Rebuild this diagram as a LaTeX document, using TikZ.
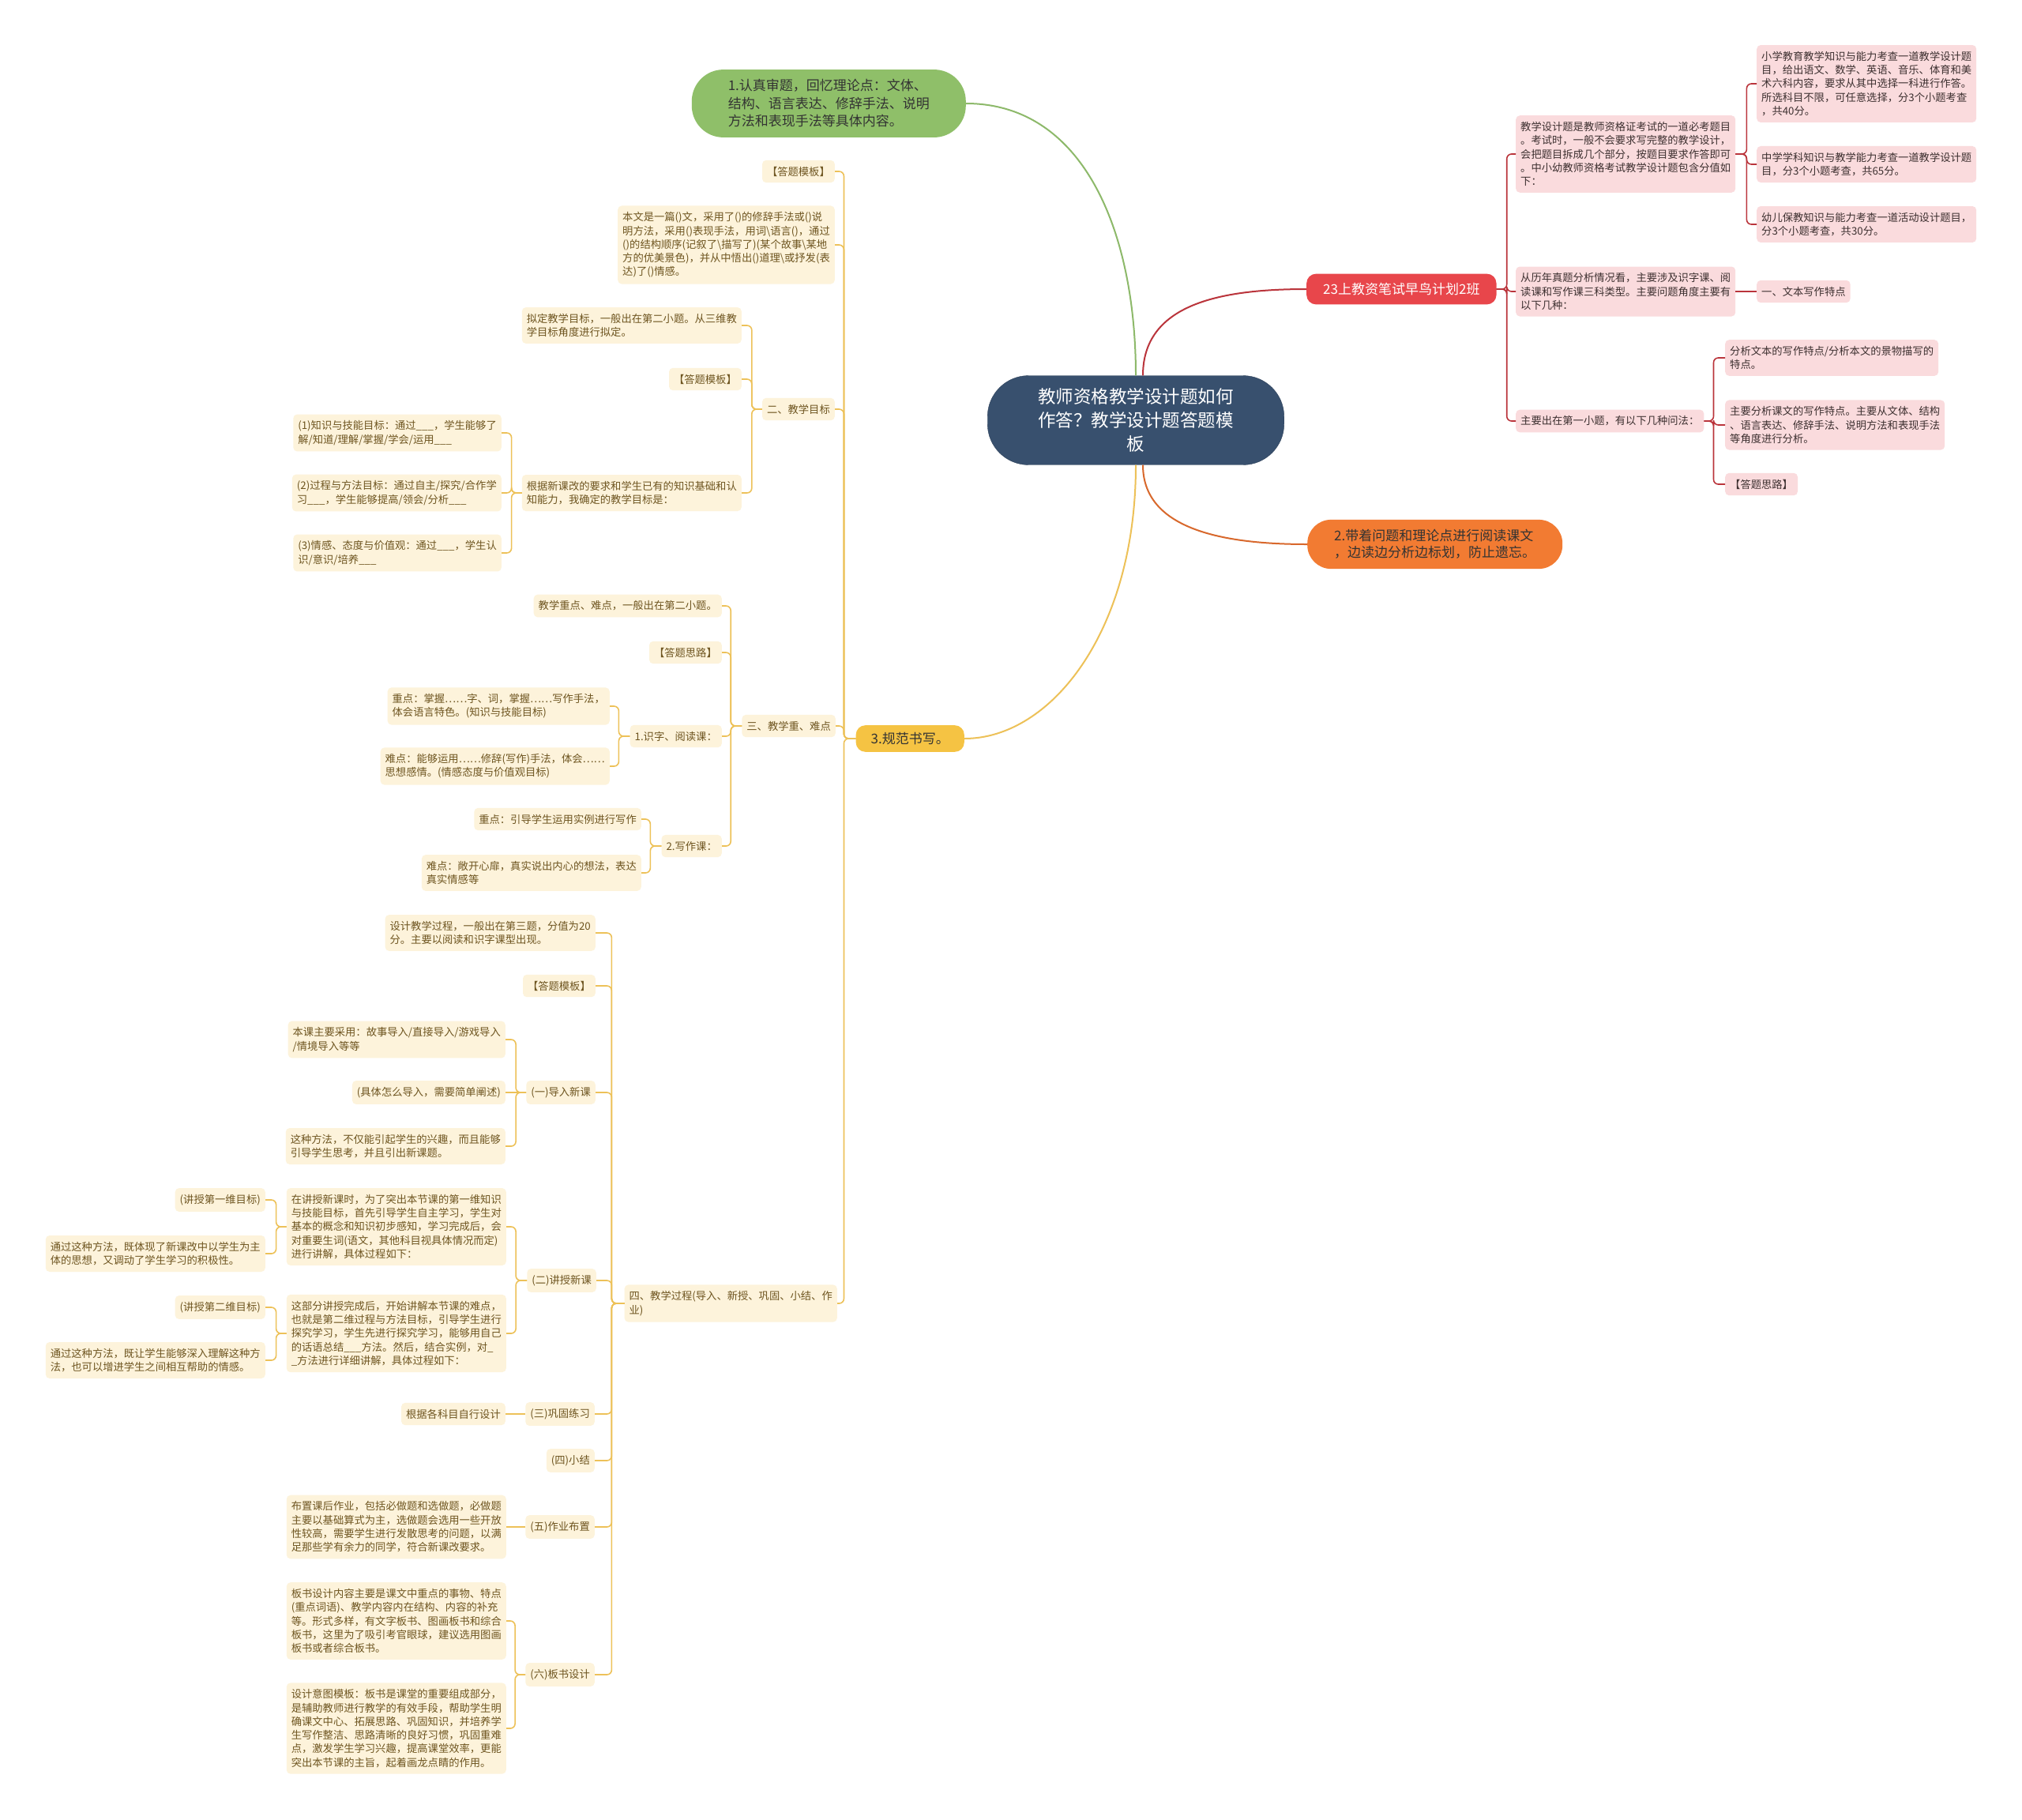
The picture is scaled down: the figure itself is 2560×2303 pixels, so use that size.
\documentclass[tikz,border=0pt]{standalone}
\usepackage{fontspec}
\setmainfont{Noto Sans CJK SC}
\usepackage{xcolor}
\definecolor{rootblue}{HTML}{38506E}
\definecolor{gfill}{HTML}{8FBF69}
\definecolor{gline}{HTML}{8DB96A}
\definecolor{rmain}{HTML}{E8464B}
\definecolor{rline}{HTML}{BA343B}
\definecolor{rfill}{HTML}{FADBDD}
\definecolor{rtext}{HTML}{3D3030}
\definecolor{omain}{HTML}{F27B32}
\definecolor{oline}{HTML}{D8682C}
\definecolor{ymain}{HTML}{F5C343}
\definecolor{yline}{HTML}{EDC158}
\definecolor{yfill}{HTML}{FDF3DB}
\definecolor{ytext}{HTML}{6E5520}
\definecolor{darktext}{HTML}{333333}
\begin{document}
\begin{tikzpicture}[x=1pt, y=-1pt,
  leaf/.style={rectangle, rounded corners=5, inner xsep=6, inner ysep=8, align=left, font=\fontsize{13.3}{17.3}\selectfont},
  yleaf/.style={leaf, fill=yfill, text=ytext, anchor=east},
  rleaf/.style={leaf, fill=rfill, text=rtext, anchor=west},
  ylink/.style={draw=yline, line width=1.6, rounded corners=6},
  rlink/.style={draw=rline, line width=1.6, rounded corners=6},
  mainlink/.style={line width=2}]
\fill[white] (0,0) rectangle (2560,2303);
\useasboundingbox (0,0) rectangle (2560,2303);

\node[rectangle, rounded corners=52, fill=rootblue, draw=rootblue!80!black, text=white, align=center, inner xsep=64, inner ysep=16, font=\fontsize{22.5}{30}\selectfont] (root) at (1438,532) {教师资格教学设计题如何\\作答？教学设计题答题模\\板};
\node[rectangle, rounded corners=40, fill=gfill, text=darktext, align=left, inner xsep=46, inner ysep=12.5, anchor=east, font=\fontsize{17}{22.5}\selectfont] (review) at (1223,131) {1.认真审题，回忆理论点：文体、\\结构、语言表达、修辞手法、说明\\方法和表现手法等具体内容。};
\node[rectangle, rounded corners=12, fill=rmain, text=white, inner xsep=21, inner ysep=11.5, anchor=west, font=\fontsize{17}{22}\selectfont] (plan) at (1654,366) {23上教资笔试早鸟计划2班};
\node[rectangle, rounded corners=30, fill=omain, text=darktext, align=left, inner xsep=34, inner ysep=12.5, anchor=west, font=\fontsize{17}{21}\selectfont] (readmark) at (1655,689) {2.带着问题和理论点进行阅读课文\\，边读边分析边标划，防止遗忘。};
\node[rectangle, rounded corners=12, fill=ymain, text=darktext, inner xsep=19, inner ysep=9, anchor=east, font=\fontsize{17}{22}\selectfont] (neat) at (1221,935) {3.规范书写。};

\path [draw=gline, mainlink] (review.east) .. controls +(150,0) and +(0,-180) .. (root.north);
\path [draw=rline, mainlink] ([xshift=9]root.north) .. controls +(0,-90) and +(-110,0) .. (plan.west);
\path [draw=oline, mainlink] ([xshift=9]root.south) .. controls +(0,80) and +(-110,0) .. (readmark.west);
\path [draw=yline, mainlink] (root.south) .. controls +(0,210) and +(110,0) .. (neat.east);

\node[rleaf] (exam) at (1919,195) {教学设计题是教师资格证考试的一道必考题目\\。考试时，一般不会要求写完整的教学设计，\\会把题目拆成几个部分，按题目要求作答即可\\。中小幼教师资格考试教学设计题包含分值如\\下：};
\node[rleaf] (exam1) at (2224,106) {小学教育教学知识与能力考查一道教学设计题\\目，给出语文、数学、英语、音乐、体育和美\\术六科内容，要求从其中选择一科进行作答。\\所选科目不限，可任意选择，分3个小题考查\\，共40分。};
\node[rleaf] (exam2) at (2224,208) {中学学科知识与教学能力考查一道教学设计题\\目，分3个小题考查，共65分。};
\node[rleaf] (exam3) at (2224,284) {幼儿保教知识与能力考查一道活动设计题目，\\分3个小题考查，共30分。};
\node[rleaf] (types) at (1919,369) {从历年真题分析情况看，主要涉及识字课、阅\\读课和写作课三科类型。主要问题角度主要有\\以下几种：};
\node[rleaf] (types1) at (2224,369) {一、文本写作特点};
\node[rleaf] (ask) at (1919,533) {主要出在第一小题，有以下几种问法：};
\node[rleaf] (ask1) at (2184,453) {分析文本的写作特点/分析本文的景物描写的\\特点。};
\node[rleaf] (ask2) at (2184,538) {主要分析课文的写作特点。主要从文体、结构\\、语言表达、修辞手法、说明方法和表现手法\\等角度进行分析。};
\node[rleaf] (ask3) at (2184,613) {【答题思路】};

\path [draw, rlink] (plan.east) -- ++(13,0) |- (exam.west);
\path [draw, rlink] (plan.east) -- ++(13,0) |- (types.west);
\path [draw, rlink] (plan.east) -- ++(13,0) |- (ask.west);
\path [draw, rlink] (exam.east) -- ++(14,0) |- (exam1.west);
\path [draw, rlink] (exam.east) -- ++(14,0) |- (exam2.west);
\path [draw, rlink] (exam.east) -- ++(14,0) |- (exam3.west);
\path [draw, rlink] (types.east) -- (types1.west);
\path [draw, rlink] (ask.east) -- ++(12,0) |- (ask1.west);
\path [draw, rlink] (ask.east) -- ++(12,0) |- (ask2.west);
\path [draw, rlink] (ask.east) -- ++(12,0) |- (ask3.west);

\node[yleaf] (tpl) at (1057,217) {【答题模板】};
\node[yleaf] (sample) at (1057,310) {本文是一篇()文，采用了()的修辞手法或()说\\明方法，采用()表现手法，用词\textbackslash 语言()，通过\\()的结构顺序(记叙了\textbackslash 描写了)(某个故事\textbackslash 某地\\方的优美景色)，并从中悟出()道理\textbackslash 或抒发(表\\达)了()情感。};
\node[yleaf] (goal) at (1057,518) {二、教学目标};
\node[yleaf] (goalintro) at (939,412) {拟定教学目标，一般出在第二小题。从三维教\\学目标角度进行拟定。};
\node[yleaf] (goaltpl) at (939,480) {【答题模板】};
\node[yleaf] (goalbase) at (939,624) {根据新课改的要求和学生已有的知识基础和认\\知能力，我确定的教学目标是：};
\node[yleaf] (goal1) at (635,548) {(1)知识与技能目标：通过\_\_\_，学生能够了\\解/知道/理解/掌握/学会/运用\_\_\_};
\node[yleaf] (goal2) at (635,624) {(2)过程与方法目标：通过自主/探究/合作学\\习\_\_\_，学生能够提高/领会/分析\_\_\_};
\node[yleaf] (goal3) at (635,700) {(3)情感、态度与价值观：通过\_\_\_，学生认\\识/意识/培养\_\_\_};
\node[yleaf] (key) at (1058,919) {三、教学重、难点};
\node[yleaf] (keyintro) at (914,767) {教学重点、难点，一般出在第二小题。};
\node[yleaf] (keytpl) at (914,826) {【答题思路】};
\node[yleaf] (read) at (914,932) {1.识字、阅读课：};
\node[yleaf] (readkey) at (772,894) {重点：掌握……字、词，掌握……写作手法，\\体会语言特色。(知识与技能目标)};
\node[yleaf] (readdiff) at (772,970) {难点：能够运用……修辞(写作)手法，体会……\\思想感情。(情感态度与价值观目标)};
\node[yleaf] (write) at (914,1071) {2.写作课：};
\node[yleaf] (writekey) at (812,1037) {重点：引导学生运用实例进行写作};
\node[yleaf] (writediff) at (812,1105) {难点：敞开心扉，真实说出内心的想法，表达\\真实情感等};
\node[yleaf] (proc) at (1060,1650) {四、教学过程(导入、新授、巩固、小结、作\\业)};
\node[yleaf] (procintro) at (754,1181) {设计教学过程，一般出在第三题，分值为20\\分。主要以阅读和识字课型出现。};
\node[yleaf] (proctpl) at (754,1248) {【答题模板】};
\node[yleaf] (intro) at (754,1383) {(一)导入新课};
\node[yleaf] (intro1) at (640,1316) {本课主要采用：故事导入/直接导入/游戏导入\\/情境导入等等};
\node[yleaf] (intro2) at (640,1383) {(具体怎么导入，需要简单阐述)};
\node[yleaf] (intro3) at (640,1451) {这种方法，不仅能引起学生的兴趣，而且能够\\引导学生思考，并且引出新课题。};
\node[yleaf] (teach) at (755,1621) {(二)讲授新课};
\node[yleaf] (teach1) at (641,1553) {在讲授新课时，为了突出本节课的第一维知识\\与技能目标，首先引导学生自主学习，学生对\\基本的概念和知识初步感知，学习完成后，会\\对重要生词(语文，其他科目视具体情况而定)\\进行讲解，具体过程如下：};
\node[yleaf] (teach1a) at (336,1519) {(讲授第一维目标)};
\node[yleaf] (teach1b) at (336,1587) {通过这种方法，既体现了新课改中以学生为主\\体的思想，又调动了学生学习的积极性。};
\node[yleaf] (teach2) at (641,1688) {这部分讲授完成后，开始讲解本节课的难点，\\也就是第二维过程与方法目标，引导学生进行\\探究学习，学生先进行探究学习，能够用自己\\的话语总结\_\_\_方法。然后，结合实例，对\_\\\_方法进行详细讲解，具体过程如下：};
\node[yleaf] (teach2a) at (336,1655) {(讲授第二维目标)};
\node[yleaf] (teach2b) at (336,1722) {通过这种方法，既让学生能够深入理解这种方\\法，也可以增进学生之间相互帮助的情感。};
\node[yleaf] (prac) at (753,1790) {(三)巩固练习};
\node[yleaf] (prac1) at (640,1790) {根据各科目自行设计};
\node[yleaf] (summ) at (753,1849) {(四)小结};
\node[yleaf] (hw) at (753,1933) {(五)作业布置};
\node[yleaf] (hw1) at (641,1933) {布置课后作业，包括必做题和选做题，必做题\\主要以基础算式为主，选做题会选用一些开放\\性较高，需要学生进行发散思考的问题，以满\\足那些学有余力的同学，符合新课改要求。};
\node[yleaf] (board) at (753,2120) {(六)板书设计};
\node[yleaf] (board1) at (641,2052) {板书设计内容主要是课文中重点的事物、特点\\(重点词语)、教学内容内在结构、内容的补充\\等。形式多样，有文字板书、图画板书和综合\\板书，这里为了吸引考官眼球，建议选用图画\\板书或者综合板书。};
\node[yleaf] (board2) at (641,2188) {设计意图模板：板书是课堂的重要组成部分，\\是辅助教师进行教学的有效手段，帮助学生明\\确课文中心、拓展思路、巩固知识，并培养学\\生写作整洁、思路清晰的良好习惯，巩固重难\\点，激发学生学习兴趣，提高课堂效率，更能\\突出本节课的主旨，起着画龙点睛的作用。};

\path [draw, ylink] (neat.west) -- ++(-15,0) |- (tpl.east);
\path [draw, ylink] (neat.west) -- ++(-15,0) |- (sample.east);
\path [draw, ylink] (neat.west) -- ++(-15,0) |- (goal.east);
\path [draw, ylink] (neat.west) -- ++(-15,0) |- (key.east);
\path [draw, ylink] (neat.west) -- ++(-15,0) |- (proc.east);
\path [draw, ylink] (goal.west) -- ++(-13,0) |- (goalintro.east);
\path [draw, ylink] (goal.west) -- ++(-13,0) |- (goaltpl.east);
\path [draw, ylink] (goal.west) -- ++(-13,0) |- (goalbase.east);
\path [draw, ylink] (goalbase.west) -- ++(-13,0) |- (goal1.east);
\path [draw, ylink] (goalbase.west) -- ++(-13,0) |- (goal2.east);
\path [draw, ylink] (goalbase.west) -- ++(-13,0) |- (goal3.east);
\path [draw, ylink] (key.west) -- ++(-14,0) |- (keyintro.east);
\path [draw, ylink] (key.west) -- ++(-14,0) |- (keytpl.east);
\path [draw, ylink] (key.west) -- ++(-14,0) |- (read.east);
\path [draw, ylink] (key.west) -- ++(-14,0) |- (write.east);
\path [draw, ylink] (read.west) -- ++(-14,0) |- (readkey.east);
\path [draw, ylink] (read.west) -- ++(-14,0) |- (readdiff.east);
\path [draw, ylink] (write.west) -- ++(-14,0) |- (writekey.east);
\path [draw, ylink] (write.west) -- ++(-14,0) |- (writediff.east);
\path [draw, ylink] (proc.west) -- ++(-16,0) |- (procintro.east);
\path [draw, ylink] (proc.west) -- ++(-16,0) |- (proctpl.east);
\path [draw, ylink] (proc.west) -- ++(-16,0) |- (intro.east);
\path [draw, ylink] (proc.west) -- ++(-16,0) |- (teach.east);
\path [draw, ylink] (proc.west) -- ++(-16,0) |- (prac.east);
\path [draw, ylink] (proc.west) -- ++(-16,0) |- (summ.east);
\path [draw, ylink] (proc.west) -- ++(-16,0) |- (hw.east);
\path [draw, ylink] (proc.west) -- ++(-16,0) |- (board.east);
\path [draw, ylink] (intro.west) -- ++(-13,0) |- (intro1.east);
\path [draw, ylink] (intro.west) -- (intro2.east);
\path [draw, ylink] (intro.west) -- ++(-13,0) |- (intro3.east);
\path [draw, ylink] (teach.west) -- ++(-14,0) |- (teach1.east);
\path [draw, ylink] (teach.west) -- ++(-14,0) |- (teach2.east);
\path [draw, ylink] (teach1.west) -- ++(-13,0) |- (teach1a.east);
\path [draw, ylink] (teach1.west) -- ++(-13,0) |- (teach1b.east);
\path [draw, ylink] (teach2.west) -- ++(-13,0) |- (teach2a.east);
\path [draw, ylink] (teach2.west) -- ++(-13,0) |- (teach2b.east);
\path [draw, ylink] (prac.west) -- (prac1.east);
\path [draw, ylink] (hw.west) -- (hw1.east);
\path [draw, ylink] (board.west) -- ++(-13,0) |- (board1.east);
\path [draw, ylink] (board.west) -- ++(-13,0) |- (board2.east);
\end{tikzpicture}
\end{document}
